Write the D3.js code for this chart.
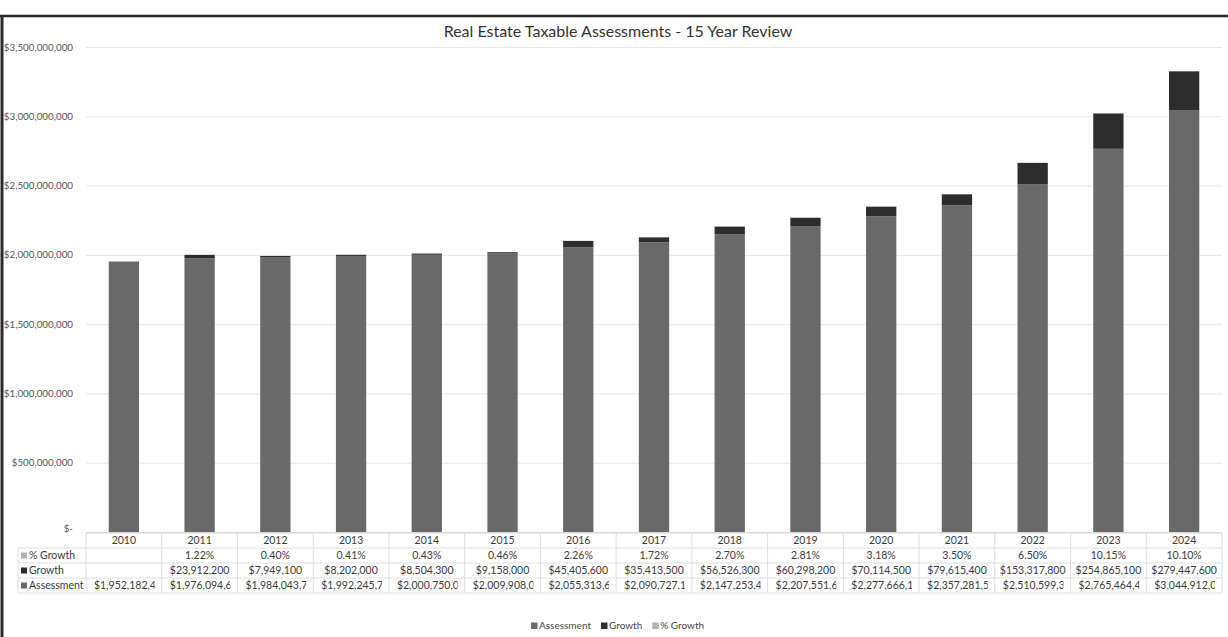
<!DOCTYPE html>
<html>
<head>
<meta charset="utf-8">
<script src="https://cdn.jsdelivr.net/npm/d3@7"></script>
<style>
    body { margin: 0; background: #fff; }
    svg { display: block; font-family: Lato, 'Open Sans', sans-serif; }
</style>
</head>
<body>
<svg class="chart"></svg>
<script>
const years = ['2010', '2011', '2012', '2013', '2014', '2015', '2016', '2017', '2018', '2019', '2020', '2021', '2022', '2023', '2024'];
const assessment = [1952182400, 1976094600, 1984043700, 1992245700, 2000750000, 2009908000, 2055313600, 2090727100, 2147253400, 2207551600, 2277666100, 2357281500, 2510599300, 2765464400, 3044912000];
const growth = [null, 23912200, 7949100, 8202000, 8504300, 9158000, 45405600, 35413500, 56526300, 60298200, 70114500, 79615400, 153317800, 254865100, 279447600];
const pctGrowth = [null, 1.22, 0.40, 0.41, 0.43, 0.46, 2.26, 1.72, 2.70, 2.81, 3.18, 3.50, 6.50, 10.15, 10.10];
const yTicks = [0, 500000000, 1000000000, 1500000000, 2000000000, 2500000000, 3000000000, 3500000000];

const W = 1228;
const H = 637;
const margin = { top: 47, right: 6, bottom: 105, left: 86 };
const colors = { assessment: '#696969', growth: '#2d2d2d', pct: '#b3b3b3' };
const fs = 10.5;

const svg = d3.select('.chart').attr('width', W).attr('height', H);

const x = d3.scaleBand().domain(years).range([margin.left, W - margin.right]).paddingInner(0.6).paddingOuter(0.3);
const band = d3.scaleBand().domain(years).range([margin.left, W - margin.right]);
const y = d3.scaleLinear().domain([0, 3500000000]).range([H - margin.bottom, margin.top]);

// frame
svg.append('line').attr('x1', 0).attr('x2', W).attr('y1', 16).attr('y2', 16).attr('stroke', '#2b2b2b').attr('stroke-width', 2.5);
svg.append('line').attr('x1', 2).attr('x2', 2).attr('y1', 15).attr('y2', H).attr('stroke', '#2b2b2b').attr('stroke-width', 3);

svg.append('text')
    .attr('x', 618).attr('y', 37)
    .attr('text-anchor', 'middle')
    .attr('font-size', 16)
    .attr('fill', '#333')
    .text('Real Estate Taxable Assessments - 15 Year Review');

// y axis
const axisY = d3.axisLeft(y)
    .tickValues(yTicks)
    .tickSize(-(W - margin.right - margin.left))
    .tickFormat((d) => d === 0 ? '$-' : d3.format('$,')(d));

const gy = svg.append('g').attr('transform', `translate(${margin.left},0)`).call(axisY);
gy.select('.domain').remove();
gy.selectAll('.tick line').attr('stroke', '#e6e6e6');
gy.selectAll('.tick text').attr('x', -13).attr('font-size', 9.8).attr('fill', '#555').attr('font-family', 'Lato, sans-serif');
gy.selectAll('.tick').filter((d) => d === 0).select('text').attr('dy', '-0.1em');

// stacked bars
const rows = years.map((yr, i) => ({ year: yr, assessment: assessment[i], growth: growth[i] || 0 }));
const stack = d3.stack().keys(['assessment', 'growth'])(rows);

svg.append('g').selectAll('g')
    .data(stack)
    .join('g')
    .attr('fill', (s) => colors[s.key])
    .selectAll('rect')
    .data((s) => s)
    .join('rect')
    .attr('x', (d) => x(d.data.year))
    .attr('width', x.bandwidth())
    .attr('y', (d) => y(d[1]))
    .attr('height', (d) => y(d[0]) - y(d[1]));

// data table
const table = svg.append('g');
const rowH = 15;
const top0 = H - margin.bottom + 1;
const labelLeft = 18;
const lineColor = '#dedede';

[0, 1, 2, 3, 4].forEach((r) => {
    table.append('line')
        .attr('x1', r === 0 ? margin.left : labelLeft)
        .attr('x2', W - margin.right)
        .attr('y1', top0 + r * rowH).attr('y2', top0 + r * rowH)
        .attr('stroke', r === 0 ? '#d0d0d0' : lineColor);
});
years.concat(['end']).forEach((yr, i) => {
    const xx = margin.left + i * band.bandwidth();
    table.append('line')
        .attr('x1', xx).attr('x2', xx)
        .attr('y1', top0).attr('y2', top0 + 4 * rowH)
        .attr('stroke', lineColor);
});
table.append('line').attr('x1', labelLeft).attr('x2', labelLeft)
    .attr('y1', top0 + rowH).attr('y2', top0 + 4 * rowH).attr('stroke', lineColor);

const cellText = (row, vals, fmt) => {
    table.selectAll(null)
        .data(vals)
        .join('text')
        .attr('x', (d, i) => band(years[i]) + band.bandwidth() / 2)
        .attr('y', top0 + row * rowH + 11)
        .attr('text-anchor', 'middle')
        .attr('font-size', fs)
        .attr('fill', '#3a3a3a')
        .text((d) => d == null ? '' : fmt(d));
};

cellText(0, years, (d) => d);
cellText(1, pctGrowth, (d) => d3.format('.2f')(d) + '%');
cellText(2, growth, d3.format('$,'));

// assessment row overflows its cells, clipped like the spreadsheet
const defs = svg.append('defs');
years.forEach((yr, i) => {
    defs.append('clipPath').attr('id', `clip-${i}`)
        .append('rect')
        .attr('x', band(yr) + 1).attr('y', top0 + 3 * rowH)
        .attr('width', band.bandwidth() - 8).attr('height', rowH);
});
table.selectAll('.assess')
    .data(assessment)
    .join('text')
    .attr('class', 'assess')
    .attr('clip-path', (d, i) => `url(#clip-${i})`)
    .attr('x', (d, i) => band(years[i]) + 8)
    .attr('y', top0 + 3 * rowH + 11)
    .attr('font-size', fs)
    .attr('fill', '#3a3a3a')
    .text((d) => d3.format('$,')(d));

const seriesLabels = [['% Growth', colors.pct], ['Growth', colors.growth], ['Assessment', colors.assessment]];
seriesLabels.forEach(([name, c], i) => {
    const yy = top0 + (i + 1) * rowH;
    table.append('rect').attr('x', labelLeft + 3).attr('y', yy + 4.5).attr('width', 6).attr('height', 6).attr('fill', c);
    table.append('text').attr('x', labelLeft + 11).attr('y', yy + 11)
        .attr('font-size', fs).attr('fill', '#3a3a3a').text(name);
});

// legend
const legendItems = [['Assessment', colors.assessment], ['Growth', colors.growth], ['% Growth', colors.pct]];
const legend = svg.append('g').attr('transform', 'translate(531,629)');
let lx = 0;
legendItems.forEach(([name, c]) => {
    legend.append('rect').attr('x', lx).attr('y', -6.5).attr('width', 6.5).attr('height', 6.5).attr('fill', c);
    const t = legend.append('text').attr('x', lx + 8).attr('y', 0)
        .attr('font-size', 10).attr('fill', '#444').text(name);
    lx += 8 + t.node().getComputedTextLength() + 10;
});
</script>
</body>
</html>
